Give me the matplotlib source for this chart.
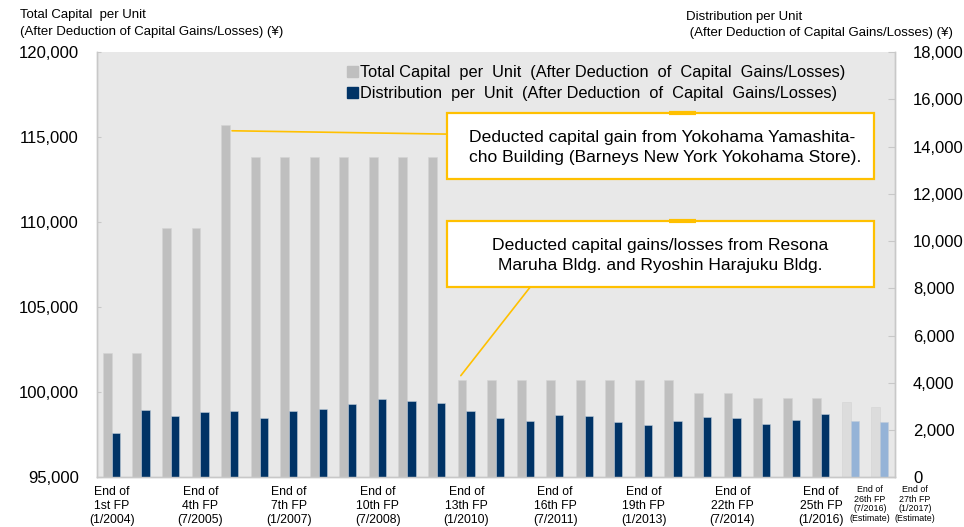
import numpy as np
import matplotlib
matplotlib.use("Agg")
import matplotlib.pyplot as plt
from matplotlib.patches import Rectangle, Patch

plt.rcParams['font.family'] = ['Liberation Sans', 'DejaVu Sans']

# Data
periods = ["1st", "2nd", "3rd", "4th", "5th", "6th", "7th", "8th", "9th", "10th",
           "11th", "12th", "13th", "14th", "15th", "16th", "17th", "18th", "19th",
           "20th", "21st", "22th", "23rd", "24th", "25th", "26th", "27th"]
total_capital = [102290, 102290, 109680, 109680, 115720, 113820, 113820, 113820,
                 113820, 113820, 113820, 113820, 100740, 100740, 100740, 100740,
                 100740, 100740, 100740, 100740, 99970, 99970, 99680, 99680,
                 99680, 99430, 99140]
distribution = [1890, 2860, 2610, 2780, 2820, 2525, 2820, 2905, 3090, 3330,
                3245, 3135, 2820, 2525, 2400, 2650, 2610, 2355, 2230, 2400,
                2555, 2525, 2270, 2430, 2665, 2385, 2345]
is_estimate = [False] * 25 + [True, True]

tick_idx = [0, 3, 6, 9, 12, 15, 18, 21, 24]
tick_labels = ["End of\n1st FP\n(1/2004)", "End of\n4th FP\n(7/2005)",
               "End of\n7th FP\n(1/2007)", "End of\n10th FP\n(7/2008)",
               "End of\n13th FP\n(1/2010)", "End of\n16th FP\n(7/2011)",
               "End of\n19th FP\n(1/2013)", "End of\n22th FP\n(7/2014)",
               "End of\n25th FP\n(1/2016)"]
est_labels = ["End of\n26th FP\n(7/2016)\n(Estimate)",
              "End of\n27th FP\n(1/2017)\n(Estimate)"]

note1 = "Deducted capital gain from Yokohama Yamashita-\ncho Building (Barneys New York Yokohama Store)."
note2 = "Deducted capital gains/losses from Resona\nMaruha Bldg. and Ryoshin Harajuku Bldg."

# Colours
bg = "#E8E8E8"
gray = "#BFBFBF"
gray_est = "#DCDCDC"
navy = "#003366"
navy_est = "#95B3D7"
orange = "#FFC000"
spine_c = "#C8C8C8"

fig = plt.figure(figsize=(9.64, 5.27), dpi=100)
ax = fig.add_axes([0.1006, 0.0943, 0.8278, 0.8070])
ax2 = ax.twinx()
ax.set_facecolor(bg)
ax2.patch.set_visible(False)

x = np.arange(len(periods))
g_colors = [gray_est if e else gray for e in is_estimate]
b_colors = [navy_est if e else navy for e in is_estimate]

ax.bar(x - 0.15, total_capital, width=0.30, color=g_colors,
       edgecolor="#D4D4D4", linewidth=0.4, zorder=2)
ax2.bar(x + 0.14, distribution, width=0.28, color=b_colors,
        edgecolor="#C0CCDA", linewidth=0.4, zorder=2)

ax.set_xlim(-0.5, len(periods) - 0.5)
ax.set_ylim(95000, 120000)
ax2.set_ylim(0, 18000)
ax.set_yticks(np.arange(95000, 120001, 5000))
ax2.set_yticks(np.arange(0, 18001, 2000))
ax.yaxis.set_major_formatter(matplotlib.ticker.FuncFormatter(lambda v, p: f"{int(v):,}"))
ax2.yaxis.set_major_formatter(matplotlib.ticker.FuncFormatter(lambda v, p: f"{int(v):,}"))

ax.set_xticks(tick_idx)
ax.set_xticklabels(tick_labels, fontsize=8.8, linespacing=1.18)
ax.tick_params(axis="x", length=0, pad=6.5)
ax.tick_params(axis="y", direction="in", length=3, color=spine_c, labelsize=12, pad=13)
ax2.tick_params(axis="y", direction="in", length=5, color=spine_c, labelsize=12, pad=13)

for a in (ax, ax2):
    a.spines["top"].set_visible(False)
    for s in ("left", "right", "bottom"):
        a.spines[s].set_color(spine_c)
        a.spines[s].set_linewidth(1.0)

# small estimate labels
trans = matplotlib.transforms.blended_transform_factory(ax.transData, ax.transAxes)
for xi, lab in zip([25.65, 27.17], est_labels):
    ax.text(xi, -0.018, lab, transform=trans, ha="center", va="top",
            fontsize=6.4, linespacing=1.1, clip_on=False)

# axis titles
fig.text(20 / 964, 1 - 15 / 527, "Total Capital  per Unit", fontsize=9.5, va="center")
fig.text(20 / 964, 1 - 32 / 527, "(After Deduction of Capital Gains/Losses) (¥)",
         fontsize=9.5, va="center")
fig.text(686 / 964, 1 - 17 / 527, "Distribution per Unit", fontsize=9.5, va="center")
fig.text(686 / 964, 1 - 33 / 527, " (After Deduction of Capital Gains/Losses) (¥)",
         fontsize=9.5, va="center")

# legend
handles = [Patch(color=gray), Patch(color=navy)]
labels = ["Total Capital  per  Unit  (After Deduction  of  Capital  Gains/Losses)",
          "Distribution  per  Unit  (After Deduction  of  Capital  Gains/Losses)"]
ax2.legend(handles, labels, loc="upper left", bbox_to_anchor=(0.305, 0.985),
           frameon=False, fontsize=11.8, handlelength=0.65, handleheight=0.65,
           handletextpad=0.12, labelspacing=0.38, borderaxespad=0)

# callout boxes
for (y0, y1) in [(0.7014, 0.8573), (0.4467, 0.6026)]:
    ax2.add_patch(Rectangle((0.4386, y0), 0.5351, y1 - y0, transform=ax2.transAxes,
                            facecolor="white", edgecolor=orange, linewidth=1.6, zorder=5))
    ax2.plot([0.717, 0.751], [y1, y1], transform=ax2.transAxes, color=orange,
             linewidth=3, solid_capstyle="butt", zorder=6)

ax2.text(0.4657, 0.7750, note1, transform=ax2.transAxes, ha="left", va="center",
         fontsize=12.6, linespacing=1.4, zorder=7)
ax2.text(0.7055, 0.5210, note2, transform=ax2.transAxes, ha="center", va="center",
         fontsize=12.6, linespacing=1.4, zorder=7)

ax.annotate("", xy=(4.07, 115370), xycoords="data", xytext=(0.4386, 0.807),
            textcoords=ax.transAxes,
            arrowprops=dict(arrowstyle="-", color=orange, lw=1.2, shrinkA=0, shrinkB=0))
ax.annotate("", xy=(11.81, 100976), xycoords="data", xytext=(0.5426, 0.4467),
            textcoords=ax.transAxes,
            arrowprops=dict(arrowstyle="-", color=orange, lw=1.2, shrinkA=0, shrinkB=0))

fig.savefig("out.png", dpi=100)
